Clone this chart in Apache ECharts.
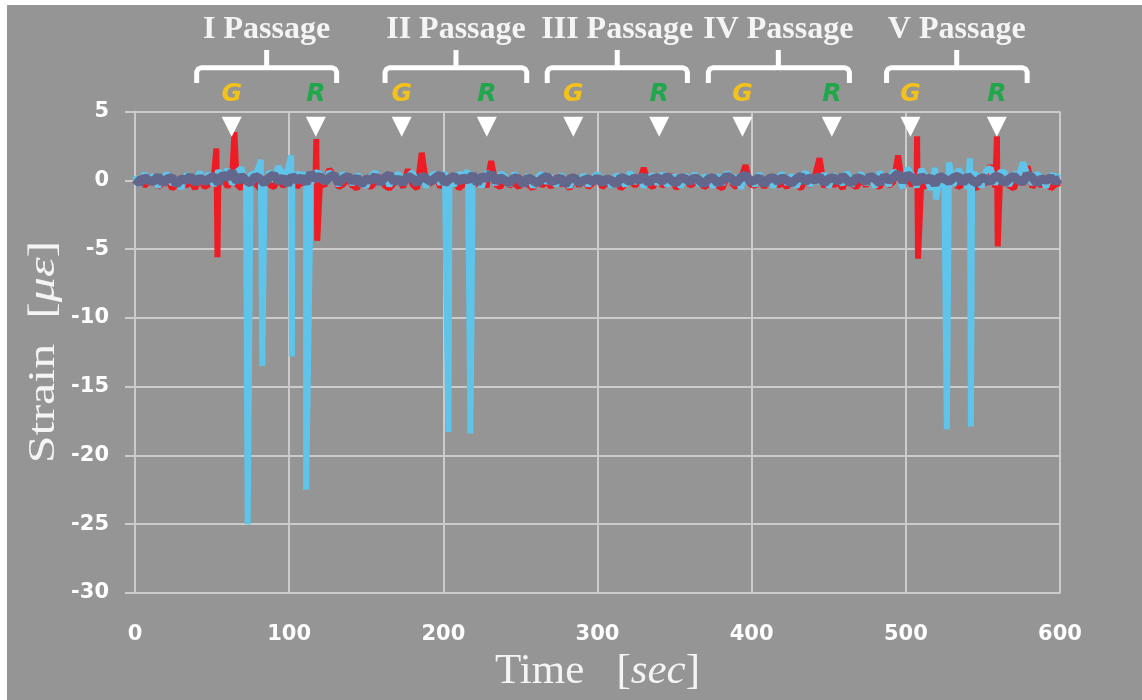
<!DOCTYPE html>
<html>
<head>
<meta charset="utf-8">
<script src="https://cdn.jsdelivr.net/npm/echarts@6/dist/echarts.min.js"></script>
<style>
html, body { margin: 0; padding: 0; background: #fff; }
#chart { position: absolute; left: 7px; top: 5px; width: 1135px; height: 695px; }
</style>
</head>
<body>
<div id="chart"></div>
<script>
// sample step of the base traces, seconds
var timeStep = 3;

// base traces, one value every 3 s from 0 to 600 s
var redBase = [
    -0.3, 0.2, -0.4, -0.1, 0.3, -0.5, -0.2, 0.1, -0.6, -0.3, 0.2, -0.4, -0.1, -0.6, 0.2, -0.5, -0.3, 0.1, -0.4, 0.3,
    -0.5, 0.2, -0.3, -0.6, 0.1, -0.4, -0.2, -0.6, 0.2, -0.3, -0.5, 0.1, -0.4, -0.2, 0.3, -0.5, -0.1, -0.4, 0.2, -0.3,
    -0.2, -0.4, 0.8, 0.3, -0.5, -0.3, 0.1, -0.4, -0.6, 0.2, -0.3, -0.5, -0.1, 0.3, -0.4, -0.6, -0.2, 0.1, -0.5, 0.8,
    -0.3, -0.6, 2.0, -0.4, -0.2, 0.3, -0.5, -0.1, -0.4, 0.2, -0.6, -0.3, 0.1, -0.4, -0.2, 0.3, -0.5, 1.4, -0.3, -0.5,
    0.2, -0.4, -0.2, -0.5, 0.1, -0.3, -0.6, 0.2, -0.4, -0.1, -0.5, 0.3, -0.3, -0.2, -0.6, 0.1, -0.4, 0.2, -0.5, -0.2,
    0.3, -0.5, -0.2, -0.4, 0.1, -0.6, -0.3, 0.2, -0.4, -0.1, 0.9, -0.3, -0.5, 0.2, -0.4, -0.2, 0.4, -0.6, -0.1, 0.3,
    -0.4, -0.2, 0.2, -0.5, -0.3, 0.1, -0.4, -0.6, 0.3, -0.2, -0.5, 0.1, 1.1, -0.3, -0.4, 0.2, -0.5, -0.1, 0.3, -0.4,
    -0.2, -0.5, 0.2, -0.3, -0.6, 0.1, -0.4, 0.3, 1.6, -0.5, 0.2, -0.4, -0.1, -0.6, 0.3, -0.3, -0.5, 0.1, -0.4, 0.2,
    -0.3, -0.5, 0.2, -0.4, -0.1, 1.8, -0.6, 0.3, -0.4, 0.2, -0.2, -0.5, 0.2, -0.4, 0.3, -0.6, -0.2, 0.1, -0.5, -0.3,
    0.2, -0.4, -0.6, 0.1, -0.3, 1.1, -0.5, -0.2, 0.3, -0.4, -0.6, 0.2, -0.3, 1.0, -0.5, -0.1, -0.4, 0.2, -0.6, -0.3,
    -0.2
];
var blueBase = [
    0.3, -0.4, 0.5, -0.2, 0.4, -0.5, 0.2, 0.5, -0.3, 0.1, -0.6, 0.4, 0.3, -0.2, 0.6, -0.1, 0.5, -0.4, 0.7, 0.2,
    0.8, -0.3, 0.6, 0.9, -0.2, 0.5, 0.3, 1.2, -0.4, 0.6, 0.2, 1.0, 0.4, 0.7, -0.2, 0.5, 0.4, 0.4, -0.3, 0.6,
    0.5, -0.2, 0.6, 0.3, -0.4, 0.5, 0.2, -0.3, 0.4, 0.1, -0.5, 0.3, 0.6, -0.2, 0.4, -0.4, 0.2, 0.5, -0.3, 0.3,
    0.6, -0.2, 0.4, -0.5, 0.3, 0.5, -0.3, 0.6, 0.2, -0.4, 0.5, 0.3, 0.7, -0.2, 0.4, -0.5, 0.6, 0.2, -0.3, 0.5,
    0.3, -0.4, 0.5, 0.1, -0.3, 0.4, -0.5, 0.2, 0.5, -0.2, 0.3, -0.4, 0.4, 0.1, -0.5, 0.3, -0.2, 0.4, -0.4, 0.2,
    0.5, -0.3, 0.3, -0.5, 0.4, 0.1, -0.4, 0.6, -0.2, 0.3, -0.5, 0.2, 0.4, -0.3, 0.5, -0.4, 0.2, 0.3, -0.5, 0.4,
    -0.2, 0.5, -0.4, 0.3, 0.1, -0.5, 0.4, -0.3, 0.6, -0.2, 0.3, -0.6, 0.4, 0.2, -0.4, 0.5, -0.3, 0.3, -0.5, 0.2,
    0.5, -0.3, 0.4, -0.5, 0.2, 0.6, -0.4, 0.3, -0.2, 0.5, -0.5, 0.4, 0.1, -0.3, 0.6, -0.4, 0.2, 0.5, -0.3, 0.4,
    -0.5, 0.6, 0.2, -0.4, 0.7, 0.3, -0.6, 0.9, 0.4, -0.5, 0.8, 0.3, -0.7, 0.9, 0.2, -0.5, 1.3, -0.4, 0.8, 0.3,
    -0.6, 0.5, 0.4, -0.5, 0.7, 0.9, -0.3, 0.6, 0.6, -0.4, 0.5, 0.3, 1.3, 0.4, -0.3, 0.5, 0.2, -0.5, 0.4, 0.3,
    0.2
];
var purpleBase = [
    0.1, -0.2, 0.2, 0.0, -0.1, 0.3, -0.2, 0.1, 0.2, -0.3, 0.1, 0.0, 0.3, -0.2, 0.2, -0.1, 0.1, 0.3, -0.2, 0.4,
    0.2, 0.6, -0.1, 0.3, 0.0, -0.2, 0.3, 0.1, -0.2, 0.2, 0.4, -0.1, 0.2, -0.3, 0.3, 0.0, 0.2, -0.2, 0.5, 0.1,
    0.3, -0.1, 0.2, 0.4, -0.2, 0.1, 0.3, -0.1, 0.2, -0.3, 0.1, 0.0, 0.3, -0.2, 0.2, 0.4, -0.1, 0.1, -0.2, 0.3,
    0.1, -0.2, 0.3, 0.1, -0.1, 0.2, 0.4, -0.2, 0.1, 0.3, -0.1, 0.2, 0.0, 0.4, -0.2, 0.3, 0.1, 0.5, -0.1, 0.2,
    0.0, -0.2, 0.2, 0.1, -0.3, 0.2, 0.0, -0.2, 0.1, 0.3, -0.1, 0.0, 0.2, -0.3, 0.1, 0.2, -0.2, 0.0, 0.1, -0.1,
    0.2, -0.2, 0.1, 0.0, -0.3, 0.2, 0.1, -0.1, 0.2, 0.0, 0.3, -0.2, 0.1, 0.2, -0.1, 0.3, 0.0, -0.2, 0.2, 0.1,
    -0.1, 0.2, 0.0, -0.3, 0.1, 0.2, -0.2, 0.0, 0.3, 0.1, -0.2, 0.2, 0.4, -0.1, 0.0, 0.2, -0.3, 0.1, 0.2, -0.1,
    0.2, 0.0, -0.2, 0.1, 0.3, -0.1, 0.2, 0.0, 0.3, -0.2, 0.1, 0.2, -0.1, 0.3, 0.0, -0.2, 0.2, 0.1, -0.1, 0.3,
    0.1, -0.2, 0.3, 0.0, 0.2, 0.5, -0.1, 0.4, 0.2, -0.2, 0.3, 0.0, 0.2, -0.3, 0.3, 0.1, -0.1, 0.2, 0.3, -0.2,
    0.3, 0.0, -0.2, 0.2, 0.1, -0.1, 0.3, 0.2, -0.2, 0.1, 0.3, 0.0, -0.1, 0.4, 0.2, -0.2, 0.1, 0.0, 0.2, -0.1,
    0.1
];

// sharp spikes [time, strain]
var redSpikes = [
    [52.8, 2.3], [53.5, -5.6], [64.5, 3.5], [117.6, 3.0], [118.2, -4.4],
    [507.3, 3.2], [507.9, -5.7], [559.1, 3.2], [559.6, -4.8]
];
var blueSpikes = [
    [73.1, -25.0], [81.6, 1.5], [82.6, -13.5], [101.3, 1.8], [101.8, -12.8], [111.0, -22.5],
    [203.3, -18.3], [217.6, -18.4], [519.5, -1.4], [526.6, -18.1], [541.6, 1.6], [542.2, -17.9]
];

// passage markers (G / R pairs) and braces
var markerTimes = [62.7, 117.3, 173, 228.2, 284.3, 340, 394, 452, 503, 559];
var markerLevel = 3.9;
var passageNames = ['I Passage', 'II Passage', 'III Passage', 'IV Passage', 'V Passage'];
var braceLeft = [40.0, 162.2, 267.4, 371.9, 487.5];
var braceRight = [130.8, 254.1, 358.3, 463.4, 578.7];
var braceMid = [85.4, 208.2, 312.8, 417.3, 533.0];

var gridColor = '#cbcbcb';
var textColor = '#f4f4f4';

function toPairs(base, spikes) {
    var out = [];
    for (var i = 0; i < base.length; i++) {
        out.push([i * timeStep, base[i]]);
    }
    out = out.concat(spikes);
    out.sort(function(a, b) { return a[0] - b[0]; });
    return out;
}

var chart = echarts.init(document.getElementById('chart'));

var option = {
    animation: false,
    backgroundColor: '#959595',
    grid: {
        left: 128,
        right: 82,
        top: 106.5,
        bottom: 107
    },
    xAxis: {
        type: 'value',
        min: 0,
        max: 600,
        interval: 100,
        axisLine: { show: true, onZero: false, lineStyle: { color: gridColor, width: 2 } },
        axisTick: { show: false },
        axisLabel: {
            color: '#fff',
            fontFamily: 'DejaVu Sans',
            fontWeight: 'bold',
            fontSize: 21,
            margin: 31
        },
        splitLine: { show: true, lineStyle: { color: gridColor, width: 2 } },
        name: 'Time   [{i|sec}]',
        nameLocation: 'middle',
        nameGap: 51,
        nameTextStyle: {
            color: textColor,
            fontFamily: 'Liberation Serif',
            fontSize: 43,
            rich: {
                i: { color: textColor, fontFamily: 'Liberation Serif', fontSize: 43, fontStyle: 'italic' }
            }
        }
    },
    yAxis: {
        type: 'value',
        min: -30,
        max: 5,
        interval: 5,
        axisLine: { show: true, onZero: false, lineStyle: { color: gridColor, width: 2 } },
        axisTick: { show: true, length: 10, lineStyle: { color: gridColor, width: 2 } },
        axisLabel: {
            color: '#fff',
            fontFamily: 'DejaVu Sans',
            fontWeight: 'bold',
            fontSize: 21,
            margin: 26
        },
        splitLine: { show: true, lineStyle: { color: gridColor, width: 2 } }
    },
    series: [{
        name: 'red',
        type: 'line',
        data: toPairs(redBase, redSpikes),
        symbol: 'none',
        lineStyle: { color: '#ee1d25', width: 6 },
        z: 2
    }, {
        name: 'blue',
        type: 'line',
        data: toPairs(blueBase, blueSpikes),
        symbol: 'none',
        lineStyle: { color: '#5ec4ea', width: 6 },
        z: 3
    }, {
        name: 'purple',
        type: 'line',
        data: toPairs(purpleBase, []),
        symbol: 'none',
        lineStyle: { color: '#63678b', width: 9 },
        z: 4
    }, {
        name: 'markers',
        type: 'scatter',
        data: markerTimes.map(function(t) { return [t, markerLevel]; }),
        symbol: 'triangle',
        symbolRotate: 180,
        symbolSize: [20, 20],
        itemStyle: { color: '#ffffff', opacity: 1 },
        clip: false,
        z: 10
    }]
};
chart.setOption(option);

// annotations above the plot, x from the time axis
function buildAnnotations() {
    var g = [];
    for (var i = 0; i < passageNames.length; i++) {
        var xl = chart.convertToPixel({ xAxisIndex: 0 }, braceLeft[i]);
        var xr = chart.convertToPixel({ xAxisIndex: 0 }, braceRight[i]);
        var xm = chart.convertToPixel({ xAxisIndex: 0 }, braceMid[i]);
        g.push({
            type: 'polyline',
            z: 100,
            shape: {
                points: [[xl, 78], [xl, 67], [xl + 1.5, 64], [xl + 4.5, 62.8],
                    [xr - 4.5, 62.8], [xr - 1.5, 64], [xr, 67], [xr, 78]]
            },
            style: { stroke: '#fff', lineWidth: 5, fill: 'none', lineJoin: 'round' }
        });
        g.push({
            type: 'line',
            z: 100,
            shape: { x1: xm, y1: 63, x2: xm, y2: 45 },
            style: { stroke: '#fff', lineWidth: 5 }
        });
        g.push({
            type: 'text',
            z: 100,
            x: xm,
            y: 24.5,
            style: {
                text: passageNames[i],
                fill: textColor,
                fontFamily: 'Liberation Serif',
                fontWeight: 'bold',
                fontSize: 32,
                align: 'center',
                verticalAlign: 'middle'
            }
        });
    }
    for (var j = 0; j < markerTimes.length; j++) {
        var xp = chart.convertToPixel({ xAxisIndex: 0 }, markerTimes[j]);
        var isG = j % 2 === 0;
        g.push({
            type: 'text',
            z: 100,
            x: xp,
            y: 89.5,
            style: {
                text: isG ? 'G' : 'R',
                fill: isG ? '#f3c11b' : '#20a64b',
                fontFamily: 'DejaVu Sans',
                fontWeight: 'bold',
                fontStyle: 'italic',
                fontSize: 25,
                align: 'center',
                verticalAlign: 'middle'
            }
        });
    }
    // y axis title, squeezed like the original
    g.push({
        type: 'text',
        z: 100,
        x: 37,
        y: 347,
        rotation: Math.PI / 2,
        scaleY: 0.75,
        style: {
            text: 'Strain  [{i|με}]',
            fill: textColor,
            fontFamily: 'Liberation Serif',
            fontSize: 50,
            align: 'center',
            verticalAlign: 'middle',
            rich: {
                i: { fill: textColor, fontFamily: 'Liberation Serif', fontSize: 50, fontStyle: 'italic' }
            }
        }
    });
    chart.setOption({ graphic: g });
}
buildAnnotations();
</script>
</body>
</html>
